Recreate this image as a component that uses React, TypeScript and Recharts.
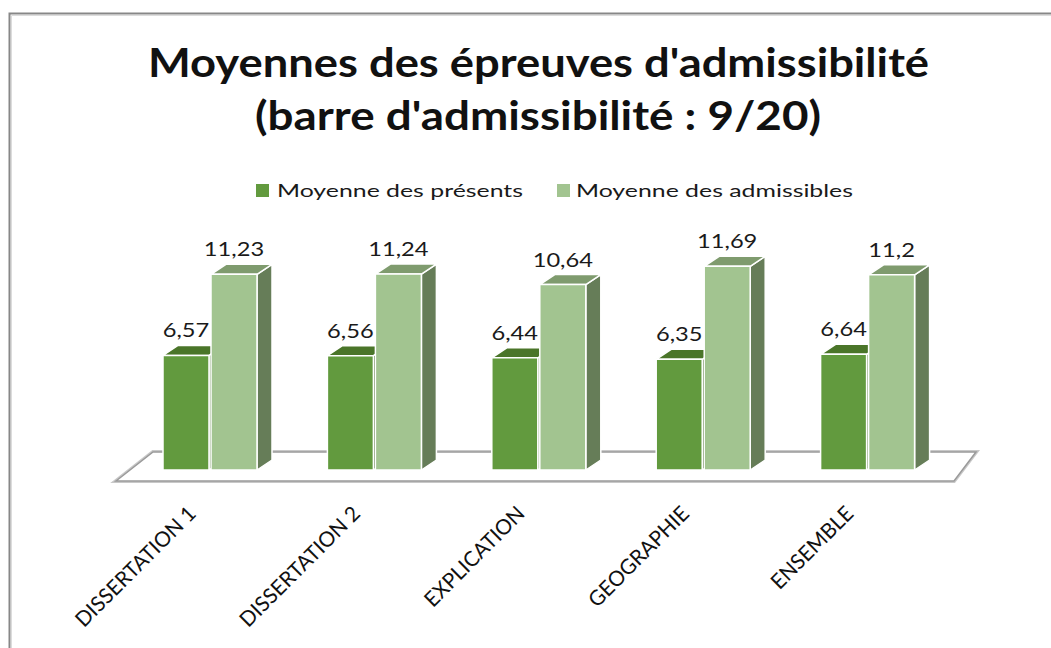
import React from 'react';
import { BarChart, Bar, XAxis, YAxis, LabelList } from 'recharts';

const categories = ['DISSERTATION 1', 'DISSERTATION 2', 'EXPLICATION', 'GEOGRAPHIE', 'ENSEMBLE'];
const presents = [6.57, 6.56, 6.44, 6.35, 6.64];
const admissibles = [11.23, 11.24, 10.64, 11.69, 11.2];

const data = categories.map((name, i) => ({
  name,
  presents: presents[i],
  admissibles: admissibles[i],
}));

const W = 1051;
const H = 648;
const FONT = 'Lato, "Open Sans", sans-serif';
const DX = 15;
const DY = -10;
const STRETCH = 1.28;

const DARK = { front: '#629a3e', top: '#4a7529', side: '#3f6523' };
const LIGHT = { front: '#a2c490', top: '#7f9b6e', side: '#667d58' };

const make3D = (c: { front: string; top: string; side: string }) => (props: any) => {
  const { x, y, width, height } = props;
  if (width == null || height == null) return null;
  const b = y + height;
  return (
    <g stroke="#ffffff" strokeWidth={1.5} strokeLinejoin="round">
      <polygon
        fill={c.side}
        points={`${x + width},${y} ${x + width + DX},${y + DY} ${x + width + DX},${b + DY} ${x + width},${b}`}
      />
      <polygon
        fill={c.top}
        points={`${x},${y} ${x + DX},${y + DY} ${x + width + DX},${y + DY} ${x + width},${y}`}
      />
      <rect x={x} y={y} width={width} height={height} fill={c.front} />
    </g>
  );
};

const ValueLabel = (props: any) => {
  const { x, y, width, value } = props;
  return (
    <g transform={`translate(${x + width / 2},${y - 18}) scale(${STRETCH},1)`}>
      <text textAnchor="middle" fontFamily={FONT} fontSize={18.5} fill="#1a1a1a">
        {String(value).replace('.', ',')}
      </text>
    </g>
  );
};

const CatTick = (props: any) => {
  const { x, y, payload } = props;
  return (
    <g transform={`translate(${x - 13},${y + 45}) scale(1.15,1) rotate(-49) skewX(-8)`}>
      <text textAnchor="end" fontFamily={FONT} fontSize={19.5} fill="#111">
        {payload.value}
      </text>
    </g>
  );
};

const Background = () => (
  <svg width={W} height={H} style={{ position: 'absolute', left: 0, top: 0 }}>
    <rect x={0} y={0} width={W} height={H} fill="#ffffff" />
    <path d={`M9.5,${H} L9.5,13.5 L${W},13.5`} fill="none" stroke="#878787" strokeWidth={2} />
    <path d={`M11.5,${H} L11.5,15.5 L${W},15.5`} fill="none" stroke="#dcdcdc" strokeWidth={1} />
    <text x={148} y={77} textLength={781} lengthAdjust="spacingAndGlyphs" fontFamily={FONT} fontWeight={700} fontSize={40} fill="#111">
      Moyennes des épreuves d'admissibilité
    </text>
    <text x={255} y={130} textLength={566} lengthAdjust="spacingAndGlyphs" fontFamily={FONT} fontWeight={700} fontSize={40} fill="#111">
      (barre d'admissibilité : 9/20)
    </text>
    <polygon points="116,481 153,452 976,452 954,481" fill="#ffffff" stroke="#c8c8c8" strokeWidth={4} />
    <polygon points="116,481 153,452 976,452 954,481" fill="#ffffff" stroke="#9a9a9a" strokeWidth={1.5} />
    <rect x={256} y={184} width={13} height={13} fill={DARK.front} />
    <text x={277} y={197} textLength={246} lengthAdjust="spacingAndGlyphs" fontFamily={FONT} fontSize={18} fill="#1a1a1a">
      Moyenne des présents
    </text>
    <rect x={557} y={184} width={13} height={13} fill={LIGHT.front} />
    <text x={576} y={197} textLength={277} lengthAdjust="spacingAndGlyphs" fontFamily={FONT} fontSize={18} fill="#1a1a1a">
      Moyenne des admissibles
    </text>
  </svg>
);

export default function App() {
  return (
    <div style={{ position: 'relative', width: W, height: H, overflow: 'hidden' }}>
      <style>{'body{margin:0}'}</style>
      <Background />
      <div style={{ position: 'absolute', left: 0, top: 0 }}>
        <BarChart
          width={W}
          height={H}
          data={data}
          margin={{ top: 226, right: 101, bottom: 28, left: 128 }}
          barSize={46}
          barGap={2}
        >
          <XAxis
            dataKey="name"
            axisLine={false}
            tickLine={false}
            tickSize={0}
            tickMargin={0}
            tick={<CatTick />}
            height={150}
            interval={0}
          />
          <YAxis hide domain={[0, 14]} width={0} />
          <Bar dataKey="presents" isAnimationActive={false} shape={make3D(DARK)}>
            <LabelList dataKey="presents" content={<ValueLabel />} />
          </Bar>
          <Bar dataKey="admissibles" isAnimationActive={false} shape={make3D(LIGHT)}>
            <LabelList dataKey="admissibles" content={<ValueLabel />} />
          </Bar>
        </BarChart>
      </div>
    </div>
  );
}
